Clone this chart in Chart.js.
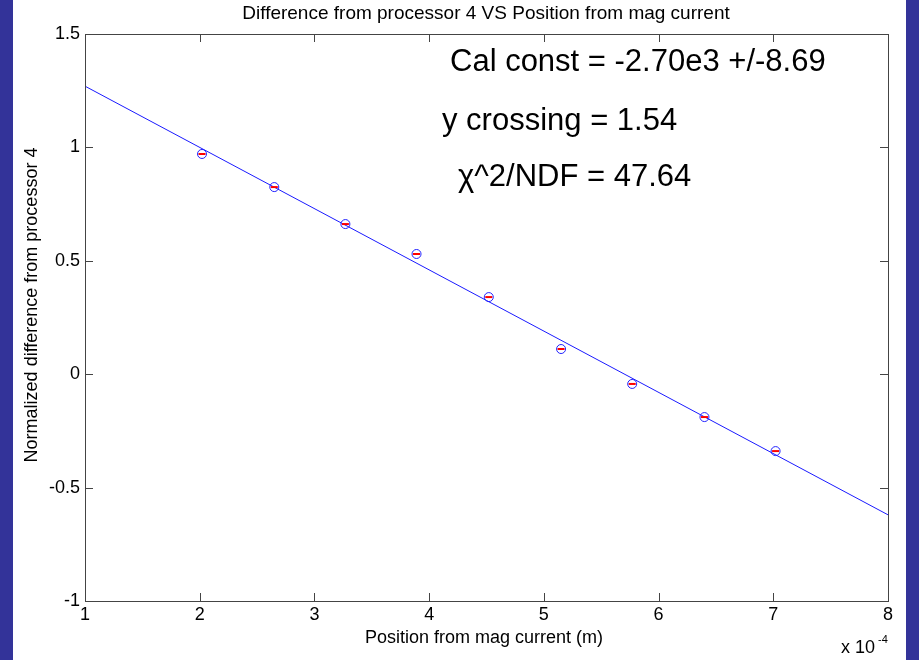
<!DOCTYPE html>
<html><head><meta charset="utf-8">
<script src="https://cdn.jsdelivr.net/npm/chart.js@4"></script>
<style>html,body{margin:0;padding:0;background:#333399;overflow:hidden;} canvas{position:absolute;left:0;top:0;}</style>
</head><body>
<canvas id="c" width="919" height="660"></canvas>
<script>
// ---- data ----
const positions   = [2.02, 2.65, 3.27, 3.89, 4.52, 5.15, 5.77, 6.40, 7.02];           // x 10^-4 m
const differences = [0.971, 0.825, 0.662, 0.530, 0.340, 0.111, -0.043, -0.189, -0.339];
const fitX = [1, 8];
const fitY = [1.27, -0.62];
const xTicks = [1, 2, 3, 4, 5, 6, 7, 8];
const yTicks = [-1, -0.5, 0, 0.5, 1, 1.5];
const titleText = 'Difference from processor 4 VS Position from mag current';
const xLabel = 'Position from mag current (m)';
const yLabel = 'Normalized difference from processor 4';
const annotations = ['Cal const = -2.70e3 +/-8.69', 'y crossing = 1.54', 'χ^2/NDF = 47.64'];
const xExponent = ['x 10', '-4'];

const FONT = '"Liberation Sans", Arial, Helvetica, sans-serif';
Chart.defaults.font.family = FONT;

const points = positions.map((x, i) => ({x: x, y: differences[i]}));
const fitLine = fitX.map((x, i) => ({x: x, y: fitY[i]}));

const decor = {
  id: 'decor',
  beforeDraw(chart) {
    const ctx = chart.ctx;
    ctx.save();
    ctx.fillStyle = '#ffffff';
    ctx.fillRect(13, 0, 893, 660);
    ctx.restore();
  },
  afterDraw(chart) {
    const ctx = chart.ctx, a = chart.chartArea;
    const xs = chart.scales.x, ys = chart.scales.y;
    ctx.save();
    ctx.strokeStyle = '#444444';
    ctx.lineWidth = 1;
    ctx.beginPath();
    ctx.rect(Math.round(a.left) + 0.5, Math.round(a.top) + 0.5, Math.round(a.right - a.left), Math.round(a.bottom - a.top));
    ctx.stroke();
    const T = 8;
    ctx.beginPath();
    xTicks.forEach(v => {
      const px = Math.round(xs.getPixelForValue(v)) + 0.5;
      ctx.moveTo(px, a.bottom); ctx.lineTo(px, a.bottom - T);
      ctx.moveTo(px, a.top); ctx.lineTo(px, a.top + T);
    });
    yTicks.forEach(v => {
      const py = Math.round(ys.getPixelForValue(v)) + 0.5;
      ctx.moveTo(a.left, py); ctx.lineTo(a.left + T, py);
      ctx.moveTo(a.right, py); ctx.lineTo(a.right - T, py);
    });
    ctx.stroke();

    ctx.fillStyle = '#000000';
    // title
    ctx.font = '19px ' + FONT;
    ctx.textAlign = 'center';
    ctx.textBaseline = 'alphabetic';
    ctx.fillText(titleText, 486, 19);
    // x axis label
    ctx.font = '18px ' + FONT;
    ctx.fillText(xLabel, 484, 643);
    // y axis label
    ctx.save();
    ctx.translate(37, 305);
    ctx.rotate(-Math.PI / 2);
    ctx.fillText(yLabel, 0, 0);
    ctx.restore();
    // exponent
    ctx.textAlign = 'left';
    ctx.font = '18px ' + FONT;
    ctx.fillText(xExponent[0], 841, 653);
    ctx.font = '11px ' + FONT;
    ctx.fillText(xExponent[1], 878, 643);
    // annotations
    ctx.font = '31px ' + FONT;
    ctx.fillText(annotations[0], 450, 71);
    ctx.fillText(annotations[1], 442, 130);
    ctx.fillText(annotations[2], 458, 186);
    ctx.restore();
  }
};

new Chart(document.getElementById('c'), {
  type: 'scatter',
  data: {
    datasets: [
      {
        type: 'line', data: fitLine, borderColor: '#1a1aff', borderWidth: 1,
        pointRadius: 0, fill: false, tension: 0, order: 3
      },
      {
        data: points, pointStyle: 'line', pointRadius: 3.5, borderColor: '#ff0000',
        borderWidth: 2, backgroundColor: '#ff0000', order: 2
      },
      {
        data: points, pointStyle: 'circle', pointRadius: 4.5, borderColor: '#2222ff',
        borderWidth: 1, backgroundColor: 'rgba(0,0,0,0)', order: 1
      }
    ]
  },
  options: {
    responsive: false,
    animation: false,
    devicePixelRatio: 1,
    layout: { padding: { left: 0, right: 31, top: 34, bottom: 0 } },
    plugins: { legend: { display: false }, tooltip: { enabled: false }, title: { display: false } },
    scales: {
      x: {
        type: 'linear', min: 1, max: 8,
        afterBuildTicks: s => { s.ticks = xTicks.map(v => ({value: v})); },
        afterFit: s => { s.height = 59; },
        grid: { display: false, drawTicks: false },
        border: { display: true, color: '#444444', width: 1 },
        ticks: { color: '#000', font: { size: 18 }, padding: 3, maxRotation: 0, autoSkip: false,
                 callback: v => String(v) }
      },
      y: {
        type: 'linear', min: -1, max: 1.5,
        afterBuildTicks: s => { s.ticks = yTicks.map(v => ({value: v})); },
        afterFit: s => { s.width = 85; },
        grid: { display: false, drawTicks: false },
        border: { display: true, color: '#444444', width: 1 },
        ticks: { color: '#000', font: { size: 18 }, padding: 5, autoSkip: false,
                 callback: v => String(v) }
      }
    }
  },
  plugins: [decor]
});
</script>
</body></html>
